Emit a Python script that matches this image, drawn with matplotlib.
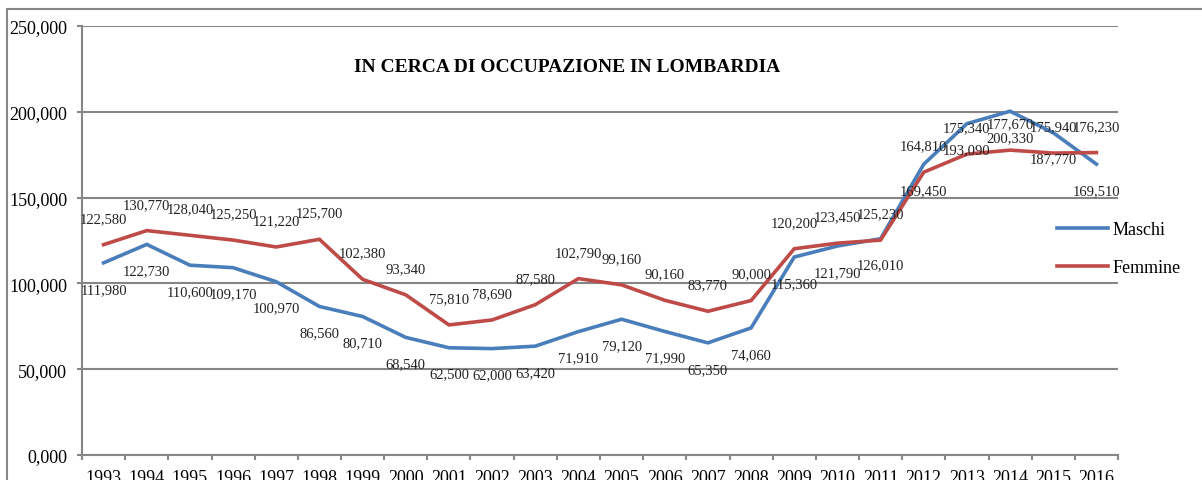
import matplotlib
matplotlib.use("Agg")
import matplotlib.pyplot as plt
from matplotlib.patches import Rectangle

# dati
anni = [str(a) for a in range(1993, 2017)]
maschi = [111980, 122730, 110600, 109170, 100970, 86560, 80710, 68540, 62500, 62000,
          63420, 71910, 79120, 71990, 65350, 74060, 115360, 121790, 126010, 169450,
          193090, 200330, 187770, 169510]
femmine = [122580, 130770, 128040, 125250, 121220, 125700, 102380, 93340, 75810, 78690,
           87580, 102790, 99160, 90160, 83770, 90000, 120200, 123450, 125230, 164810,
           175340, 177670, 175940, 176230]
y_ticks = [0, 50000, 100000, 150000, 200000, 250000]
y_tick_labels = ['0,000', '50,000', '100,000', '150,000', '200,000', '250,000']
titolo = 'IN CERCA DI OCCUPAZIONE IN LOMBARDIA'

plt.rcParams['font.family'] = ['Liberation Serif', 'DejaVu Serif']

W, H = 1202, 481
fig = plt.figure(figsize=(W / 100, H / 100), dpi=100)
grigio = '#868686'
blu = '#4A7EBB'
rosso = '#BE4B48'

# cornice esterna
fig.patches.append(Rectangle((7 / W, -0.1), 1.2, 1 - 10 / H + 0.1, transform=fig.transFigure,
                             fill=False, edgecolor=grigio, linewidth=1.5))

ax = fig.add_axes([82 / W, 1 - 456 / H, 1036 / W, 429 / H])
x = list(range(len(anni)))

ax.plot(x, maschi, color=blu, linewidth=2.6, label='Maschi', solid_joinstyle='miter')
ax.plot(x, femmine, color=rosso, linewidth=2.6, label='Femmine', solid_joinstyle='miter')

for i in x:
    ax.annotate(f'{femmine[i]:,}', (i, femmine[i]), xytext=(0, 19), textcoords='offset points',
                ha='center', va='center', fontsize=10.5, color='#222222')
    ax.annotate(f'{maschi[i]:,}', (i, maschi[i]), xytext=(0, -19), textcoords='offset points',
                ha='center', va='center', fontsize=10.5, color='#222222')

ax.set_xlim(-0.5, len(anni) - 0.5)
ax.set_ylim(0, 250000)
ax.set_yticks(y_ticks)
ax.set_yticklabels(y_tick_labels, fontsize=13)
ax.set_xticks([i - 0.5 for i in range(len(anni) + 1)])
ax.set_xticklabels([])
ax.set_xticks(x, minor=True)
ax.set_xticklabels(anni, minor=True, fontsize=13)
ax.tick_params(axis='x', which='major', length=3.6, color=grigio, width=1.5, direction='out')
ax.tick_params(axis='x', which='minor', length=0, pad=10)
ax.tick_params(axis='y', length=3.6, color=grigio, width=1.5, pad=7)
ax.yaxis.grid(True, color=grigio, linewidth=1.5)
ax.set_axisbelow(True)
for s in ['top', 'right']:
    ax.spines[s].set_visible(False)
for s in ['left', 'bottom']:
    ax.spines[s].set_color(grigio)
    ax.spines[s].set_linewidth(1.5)

ax.text(567.5 / W, 1 - 68 / H, titolo, transform=fig.transFigure, ha='center', va='center',
        fontsize=14, fontweight='bold')

fig.legend(loc='center left', bbox_to_anchor=(1057 / W, 1 - 249.5 / H), frameon=False,
           fontsize=13, handlelength=2.8, labelspacing=1.15, handletextpad=0.27,
           borderaxespad=0, borderpad=0)

fig.savefig('out.png', dpi=100)
